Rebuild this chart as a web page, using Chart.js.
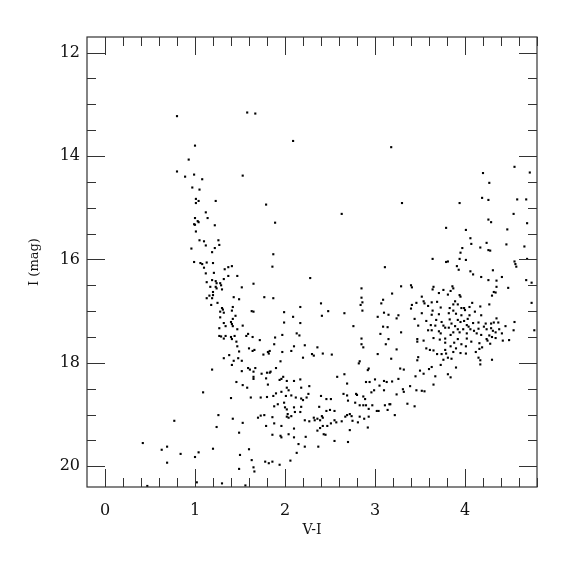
<!DOCTYPE html>
<html>
<head>
<meta charset="utf-8">
<script src="https://cdn.jsdelivr.net/npm/chart.js@4"></script>
<style>
  html, body { margin: 0; padding: 0; background: #fff; }
  #wrap { width: 575px; height: 575px; }
</style>
</head>
<body>
<div id="wrap"><canvas id="cmd"></canvas></div>
<script>
// Stars as [V-I, I]
var brightStars = [
  [0.80,13.23],[1.00,13.80],[0.93,14.07],[0.80,14.30],[0.89,14.40],[0.99,14.36],[1.08,14.45],
  [1.58,13.16],[1.67,13.18],[2.09,13.71],[1.53,14.38],
  [3.18,13.83],[4.20,14.33],[4.55,14.21],[4.72,14.32]
];

var blueEdge = [
  [0.97,14.61],[1.05,14.65],[1.01,14.83],[1.04,14.87],[1.01,14.91],[1.23,14.87],[1.12,15.09],[1.14,15.20],
  [1.00,15.20],[1.03,15.26],[1.04,15.28],[0.99,15.32],[1.00,15.33],[1.22,15.34],[1.01,15.46],[1.05,15.63],
  [1.10,15.65],[1.26,15.63],[1.12,15.73],[1.27,15.72],[1.22,15.78],[0.96,15.79],[1.19,15.86],[0.99,16.05],
  [1.06,16.07],[1.08,16.09],[1.13,16.06],[1.20,16.07],[1.10,16.16],[1.33,16.19],[1.37,16.15],[1.41,16.13],
  [1.12,16.27],[1.21,16.26],[1.37,16.32],[1.47,16.32],[1.32,16.38],[1.13,16.44],[1.19,16.40],[1.23,16.42],
  [1.24,16.46],[1.28,16.46],[1.29,16.50],[1.17,16.53],[1.23,16.53],[1.24,16.56],[1.30,16.58],[1.20,16.63],
  [1.16,16.70],[1.20,16.69],[1.13,16.75],[1.19,16.75],[1.43,16.73],[1.49,16.77],[1.25,16.84],[1.18,16.88],
  [1.30,16.94],[1.31,16.97],[1.28,17.01],[1.32,17.03],[1.42,16.92],[1.41,16.99],[1.45,17.09],[1.28,17.12],
  [1.42,17.15],[1.32,17.23],[1.34,17.29],[1.40,17.21],[1.41,17.25],[1.42,17.29],[1.27,17.33],[1.47,17.35],
  [1.27,17.48],[1.29,17.49],[1.34,17.48],[1.32,17.53],[1.40,17.50],[1.44,17.48],[1.41,17.54],[1.46,17.59],
  [1.47,17.68],[1.49,17.78],[1.38,17.85],[1.32,17.91],[1.48,17.91],[1.43,17.96],[1.41,18.04],[1.19,18.13],
  [1.46,18.37],[1.09,18.57],[1.40,18.68],[1.26,19.01],[1.42,19.08],[0.77,19.12],[1.24,19.24],[1.49,19.35],
  [0.42,19.55],[0.69,19.62],[0.63,19.68],[1.20,19.66],[1.04,19.73],[0.84,19.76],[1.00,19.82],[1.50,19.78],
  [0.69,19.93],[1.49,20.05],[1.02,20.31],[1.30,20.33],[0.47,20.38],[1.56,20.37]
];

var middleArc = [
  [1.79,14.94],[2.63,15.12],[1.89,15.29],[1.87,15.90],[1.86,16.14],[3.11,16.15],[2.28,16.36],[1.52,16.54],
  [1.65,16.47],[2.85,16.56],[1.77,16.73],[1.87,16.75],[2.85,16.74],[3.09,16.78],[2.86,16.83],[2.84,16.88],
  [3.07,16.85],[2.40,16.85],[2.17,16.92],[1.63,17.00],[1.65,17.01],[1.99,17.02],[2.48,17.00],[2.66,17.04],
  [2.86,16.99],[3.10,17.03],[3.15,17.07],[2.09,17.11],[2.41,17.09],[3.03,17.11],[1.99,17.22],[2.17,17.23],
  [1.53,17.28],[3.09,17.30],[3.14,17.31],[2.76,17.29],
  [1.59,17.44],[1.57,17.48],[1.64,17.50],[1.97,17.46],[2.13,17.43],[2.16,17.47],[1.89,17.51],[1.72,17.56],
  [1.88,17.64],[2.85,17.53],[3.12,17.64],[3.15,17.54],[3.06,17.44],[2.85,17.64],[2.87,17.70],[2.10,17.68],
  [2.22,17.66],[2.36,17.70],[1.60,17.72],[1.64,17.77],[1.66,17.75],[1.83,17.77],[1.82,17.82],[1.81,17.79],
  [1.97,17.79],[2.07,17.77],[1.76,17.84],[2.30,17.83],[2.32,17.86],[2.42,17.82],[2.52,17.84],[2.20,17.90],
  [3.03,17.83],[1.52,17.96],[1.95,17.97],[2.83,17.97],[2.82,18.01],[1.59,18.10],[1.67,18.10],[1.61,18.13],
  [1.65,18.17],[1.52,18.16],[1.74,18.21],[1.80,18.19],[1.83,18.19],[1.84,18.17],[1.65,18.27],[1.65,18.31],
  [1.79,18.30],[1.90,18.10],[1.98,18.27],[1.96,18.31],[1.94,18.33],[2.02,18.35],[2.10,18.35],[2.17,18.32],
  [2.93,18.11],[2.92,18.14],[2.66,18.22],[2.58,18.27],[2.94,18.37],[3.00,18.32],[3.10,18.35],[3.13,18.37],
  [2.69,18.40],[2.90,18.37],[1.53,18.43],[1.58,18.48],[2.02,18.48],[2.04,18.53],[1.96,18.56],[2.27,18.45],
  [2.18,18.48],[3.05,18.44],[2.99,18.53],[2.96,18.57],[3.10,18.53],[1.81,18.42],[1.90,18.59],[1.87,18.64],
  [1.80,18.66],[1.73,18.67],[1.62,18.67],[2.01,18.64],[2.07,18.63],[2.12,18.67],[2.18,18.69],[2.20,18.72],
  [2.24,18.67],[2.26,18.60],[2.40,18.64],[2.46,18.70],[2.51,18.70],[2.65,18.60],[2.69,18.63],[2.70,18.73],
  [2.78,18.77],[2.79,18.60],[2.80,18.62],[2.87,18.65],[2.89,18.70],[2.83,18.82],[2.87,18.82],[2.90,18.82],
  [2.93,18.89],[2.97,18.82],[3.02,18.93],[3.04,18.93],[3.11,18.82],[3.14,18.91],[3.16,18.80],[1.73,19.02],
  [1.77,19.01],[1.70,19.06],[1.86,19.05],[1.88,19.17],[1.79,19.22],[1.96,19.22],[1.92,18.80],[1.88,18.84],
  [1.99,18.77],[2.00,18.86],[2.02,18.90],[2.03,18.99],[2.02,19.04],[2.04,19.06],[2.07,19.03],[2.10,18.86],
  [2.11,18.95],[2.17,18.95],[2.18,18.85],[2.22,19.11],[2.27,19.13],[2.32,19.06],[2.33,19.11],[2.38,18.85],
  [2.36,19.08],[2.39,19.11],[2.42,19.06],[2.41,19.03],[2.46,18.93],[2.50,18.91],[2.55,18.93],[2.42,19.22],
  [2.47,19.22],[2.51,19.17],[2.55,19.11],[2.57,19.15],[2.63,19.13],[2.67,19.04],[2.69,19.01],[2.72,18.99],
  [2.74,19.03],[2.75,19.12],[2.81,19.15],[2.83,19.04],[2.88,19.08],[2.93,19.04],[2.92,19.25],[2.72,19.30],
  [2.36,19.31],[2.39,19.26],[2.10,19.27],[2.04,19.38],[1.86,19.39],[1.95,19.41],[1.96,19.44],[2.10,19.44],
  [2.23,19.43],[2.43,19.38],[2.45,19.39],[2.37,19.62],[2.22,19.62],[2.15,19.57],[2.55,19.51],[2.70,19.53],
  [1.53,19.16],[1.60,19.67],[1.63,19.88],[1.65,20.02],[1.66,20.10],[1.78,19.91],[1.82,19.94],[1.86,19.91],
  [1.94,19.97],[2.06,19.89],[2.13,19.74]
];

var redSide = [
  [4.27,14.52],[3.30,14.91],[3.94,14.91],[4.19,14.81],[4.26,14.85],[4.58,14.84],[4.68,14.84],[4.54,15.12],
  [4.26,15.23],[4.29,15.28],[4.69,15.30],[3.79,15.39],[4.01,15.43],[4.47,15.42],[4.06,15.59],[4.07,15.70],
  [4.24,15.68],[4.46,15.71],[4.66,15.75],[4.17,15.77],[3.97,15.78],[4.26,15.82],[4.28,15.83],[3.95,15.87],
  [3.64,15.99],[3.79,16.05],[3.81,16.04],[3.94,15.99],[4.01,16.01],[4.69,15.99],[4.55,16.04],[4.56,16.09],
  [4.57,16.14],[3.91,16.13],[3.93,16.20],[3.19,16.66],[3.29,16.52],[3.24,17.14],[3.26,17.08],
  [4.06,16.23],[4.09,16.29],[4.18,16.34],[4.31,16.21],[4.41,16.34],[4.26,16.40],[4.35,16.41],[4.35,16.53],
  [4.48,16.55],[4.68,16.40],[4.74,16.45],[4.74,16.84],[3.40,16.50],[3.41,16.54],[3.65,16.53],[3.64,16.58],
  [3.86,16.52],[3.87,16.56],[3.84,16.61],[3.76,16.59],[3.71,16.65],[3.81,16.68],[3.94,16.69],[3.95,16.72],
  [4.32,16.63],[4.34,16.64],[4.30,16.70],[3.52,16.72],[3.54,16.81],[3.55,16.85],[3.46,16.84],[3.41,16.88],
  [3.40,16.95],[3.63,16.83],[3.69,16.82],[3.89,16.81],[3.87,16.87],[3.92,16.87],[4.08,16.84],[4.27,16.87],
  [4.17,16.91],[3.59,16.90],[3.73,16.93],[3.83,16.94],[3.96,16.94],[3.99,16.94],[4.05,16.92],[4.11,17.01],
  [4.00,16.98],[3.87,16.99],[3.64,16.99],[3.52,17.04],[3.63,17.07],[3.71,17.06],[3.82,17.04],[3.90,17.05],
  [3.96,17.08],[4.05,17.08],[4.18,17.08],[4.35,17.14],[3.44,17.15],[3.57,17.19],[3.68,17.17],[3.74,17.21],
  [3.83,17.16],[3.85,17.24],[3.92,17.17],[3.99,17.19],[3.95,17.21],[4.03,17.15],[4.09,17.23],[4.02,17.27],
  [4.15,17.22],[4.23,17.24],[4.29,17.24],[4.32,17.22],[4.37,17.22],[4.45,17.29],[4.55,17.21],[3.48,17.28],
  [3.62,17.27],[3.67,17.28],[3.76,17.28],[3.78,17.32],[3.82,17.32],[3.89,17.29],[3.92,17.35],[3.98,17.35],
  [4.04,17.30],[4.06,17.35],[4.10,17.38],[4.15,17.34],[4.21,17.30],[4.24,17.35],[4.29,17.33],[4.31,17.38],
  [4.34,17.41],[4.38,17.35],[4.41,17.43],[4.54,17.37],[4.77,17.37],[3.29,17.41],[3.59,17.37],[3.63,17.37],
  [3.71,17.39],[3.73,17.43],[3.87,17.41],[3.94,17.41],[3.84,17.46],[4.02,17.43],[4.13,17.43],[4.18,17.46],
  [4.27,17.47],[4.30,17.50],[4.24,17.54],[4.34,17.52],[4.42,17.57],[4.49,17.56],[3.47,17.54],[3.47,17.59],
  [3.54,17.57],[3.65,17.52],[3.72,17.55],[3.78,17.53],[3.92,17.54],[4.02,17.53],[4.07,17.59],[4.16,17.62],
  [4.25,17.57],[4.28,17.63],[3.78,17.61],[3.88,17.61],[3.96,17.64],[3.84,17.68],[3.90,17.72],[4.01,17.68],
  [3.57,17.72],[3.61,17.75],[3.65,17.76],[3.78,17.75],[3.87,17.79],[3.95,17.81],[4.01,17.82],[4.12,17.79],
  [4.16,17.73],[4.19,17.70],[3.69,17.83],[3.74,17.83],[3.79,17.82],[3.81,17.90],[3.85,17.92],[4.15,17.90],
  [4.17,17.95],[4.30,17.94],[3.48,17.89],[3.47,17.95],[3.76,17.94],[3.90,18.09],[3.63,18.08],[3.60,18.12],
  [3.73,18.04],[4.17,18.03],[3.28,18.11],[3.32,18.13],[3.50,18.15],[3.54,18.21],[3.45,18.26],[3.67,18.26],
  [3.81,18.22],[3.84,18.28],
  [3.18,17.92],[3.24,17.74],[3.19,18.36],[3.26,18.31],[3.24,18.61],[3.17,18.80],[3.22,19.01],[3.31,18.51],
  [3.32,18.56],[3.39,18.45],[3.46,18.53],[3.52,18.54],[3.55,18.55],[3.65,18.42],[3.36,18.79],[3.44,18.84]
];

var xTickValues = [0, 1, 2, 3, 4];
var yTickValues = [12, 14, 16, 18, 20];

var allStars = brightStars.concat(blueEdge, middleArc, redSide).map(function (s) {
  return { x: s[0], y: s[1] };
});

var serif = "'DejaVu Serif', 'Liberation Serif', serif";

// inward ticks on all four sides plus the frame
var frameTicks = {
  id: 'frameTicks',
  afterDatasetsDraw: function (chart) {
    var ctx = chart.ctx, a = chart.chartArea;
    var xs = chart.scales.x, ys = chart.scales.y;
    ctx.save();
    ctx.strokeStyle = '#333';
    ctx.lineWidth = 1.2;
    ctx.strokeRect(a.left, a.top, a.right - a.left, a.bottom - a.top);
    ctx.lineWidth = 1;
    ctx.beginPath();
    for (var k = 0; k <= 24; k++) {
      var v = k * 0.2;
      var px = Math.round(xs.getPixelForValue(v)) + 0.5;
      var len = (k % 5 === 0) ? 18 : 9;
      ctx.moveTo(px, a.bottom); ctx.lineTo(px, a.bottom - len);
      ctx.moveTo(px, a.top); ctx.lineTo(px, a.top + len);
    }
    for (var j = 24; j <= 40; j++) {
      var w = j * 0.5;
      var py = Math.round(ys.getPixelForValue(w)) + 0.5;
      var l2 = (j % 4 === 0) ? 18 : 9;
      ctx.moveTo(a.left, py); ctx.lineTo(a.left + l2, py);
      ctx.moveTo(a.right, py); ctx.lineTo(a.right - l2, py);
    }
    ctx.stroke();
    ctx.restore();
  }
};

new Chart(document.getElementById('cmd'), {
  type: 'scatter',
  data: {
    datasets: [{
      data: allStars,
      pointStyle: 'rect',
      pointRadius: 1.5,
      pointBorderWidth: 0,
      backgroundColor: '#000',
      borderColor: '#000'
    }]
  },
  options: {
    responsive: true,
    maintainAspectRatio: false,
    animation: false,
    layout: { padding: { top: 37, right: 38, left: 0, bottom: 0 } },
    plugins: { legend: { display: false }, tooltip: { enabled: false } },
    scales: {
      x: {
        type: 'linear',
        min: -0.2,
        max: 4.8,
        afterBuildTicks: function (s) { s.ticks = xTickValues.map(function (v) { return { value: v }; }); },
        afterFit: function (s) { s.height = 88; },
        grid: { display: false, drawTicks: false },
        border: { display: false },
        ticks: { padding: 14, color: '#111', font: { family: serif, size: 16 } },
        title: { display: true, text: 'V-I', color: '#111', font: { family: serif, size: 14 }, padding: { top: 0, bottom: 36 } }
      },
      y: {
        type: 'linear',
        reverse: true,
        min: 11.7,
        max: 20.4,
        afterBuildTicks: function (s) { s.ticks = yTickValues.map(function (v) { return { value: v }; }); },
        afterFit: function (s) { s.width = 87; },
        grid: { display: false, drawTicks: false },
        border: { display: false },
        ticks: { padding: 7, color: '#111', font: { family: serif, size: 16 } },
        title: { display: true, text: 'I (mag)', color: '#111', font: { family: serif, size: 13 }, padding: { top: 27, bottom: 0 } }
      }
    }
  },
  plugins: [frameTicks]
});
</script>
</body>
</html>
